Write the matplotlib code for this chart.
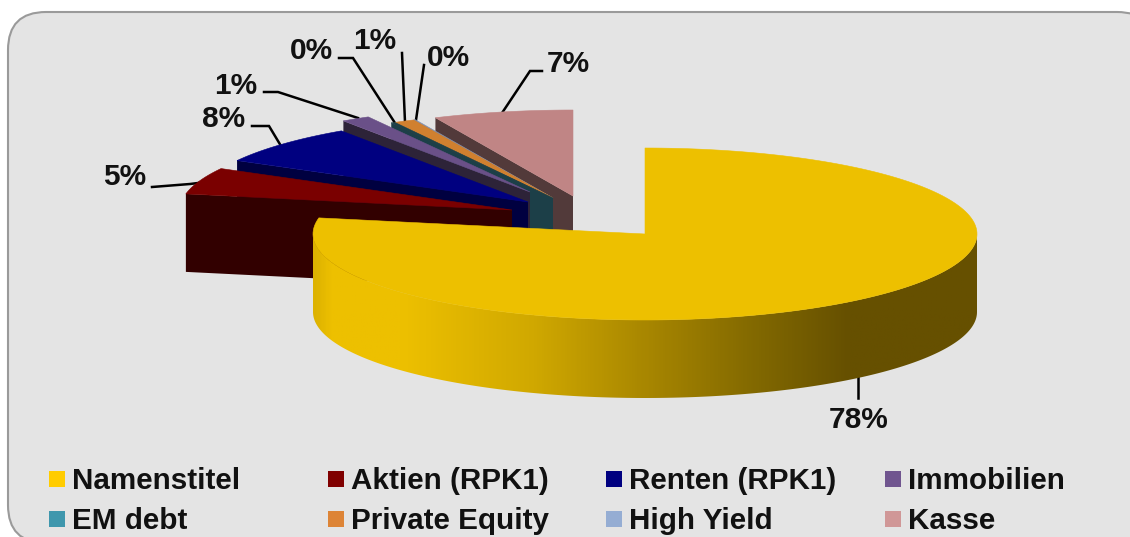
"""Exploded 3D style pie of the portfolio split, drawn by hand on a pixel sized axes."""
import matplotlib
matplotlib.use("Agg")
import matplotlib.pyplot as plt
import numpy as np
from matplotlib.colors import LinearSegmentedColormap
from matplotlib.patches import FancyBboxPatch, Polygon, Rectangle

plt.rcParams["font.family"] = ["Liberation Sans", "DejaVu Sans"]

# data
CATEGORIES = ["Namenstitel", "Aktien (RPK1)", "Renten (RPK1)", "Immobilien",
              "EM debt", "Private Equity", "High Yield", "Kasse"]
SHARES = [78.0, 5.0, 7.5, 1.4, 0.2, 1.0, 0.1, 6.8]
SHARE_LABELS = ["78%", "5%", "8%", "1%", "0%", "1%", "0%", "7%"]

# styles
LEGEND_COLORS = ["#FFCC00", "#800000", "#000080", "#70558F", "#3F97AD", "#DD8436", "#95ADD3", "#D09797"]
TOP_COLORS = ["#EDC000", "#7A0000", "#000080", "#6A5088", "#1C4048", "#D0802F", "#8090B0", "#C08585"]
WALL_COLORS = ["#665000", "#320000", "#000040", "#2D2338", "#1C3F48", "#6A4A20", "#4A5468", "#523A3A"]

# layout, in pixels of the 1130x537 picture
RX, RY, DEPTH = 332, 86, 78
APEX = [(645, 234), (512, 210), (528, 202), (530, 192), (553, 198), (553, 198), (553, 198), (573, 196)]
LEADERS = [
    [(858, 377), (858, 398)],
    [(198, 183), (190, 184), (152, 187)],
    [(281, 146), (269, 126), (252, 126)],
    [(358, 118), (278, 92), (264, 92)],
    [(395, 123), (353, 58), (339, 58)],
    [(405, 122), (402, 53)],
    [(416, 120), (424, 65)],
    [(502, 113), (530, 71), (542, 71)],
]
LABEL_POS = [(859, 420), (125, 177), (224, 119), (236, 86), (311, 51), (375, 41), (448, 58), (568, 64)]
LEGEND_X = [49, 328, 606, 885]
LEGEND_Y = [479, 519]

# shading along the front wall of the big slice
GRAD_X = [313, 330, 401, 533, 652, 762, 850, 977]
GRAD_C = ["#DDB200", "#EDC000", "#EDC000", "#D0A800", "#A68500", "#806700", "#665000", "#665000"]


def pie_point(apex, angle):
    a = np.radians(angle)
    return apex[0] + RX * np.sin(a), apex[1] - RY * np.cos(a)


def arc_points(apex, start, end):
    angles = np.linspace(start, end, 200)
    return np.array([pie_point(apex, a) for a in angles])


def draw_slice(ax, i, start, end, z):
    apex = APEX[i]
    # radial wall on the start side, faces the viewer on the left half
    if start > 180:
        cx, cy = pie_point(apex, start)
        ax.add_patch(Polygon([apex, (cx, cy), (cx, cy + DEPTH), (apex[0], apex[1] + DEPTH)],
                             fc=WALL_COLORS[i], ec="none", zorder=z))
    # outer wall, only the part between 90 and 270 degrees can be seen
    a0, a1 = max(start, 90), min(end, 270)
    if a0 < a1:
        arc = arc_points(apex, a0, a1)
        low = arc[::-1] + [0, DEPTH]
        wall = Polygon(np.vstack([arc, low]), fc="none", ec="none", zorder=z)
        ax.add_patch(wall)
        xs = np.linspace(GRAD_X[0], GRAD_X[-1], 400)
        stops = [(x - GRAD_X[0]) / (GRAD_X[-1] - GRAD_X[0]) for x in GRAD_X]
        cmap = LinearSegmentedColormap.from_list("wall", list(zip(stops, GRAD_C)))
        im = ax.imshow(xs[None, :], extent=(GRAD_X[0], GRAD_X[-1], 420, 200), aspect="auto",
                       cmap=cmap, zorder=z)
        im.set_clip_path(wall)
    top = np.vstack([[apex], arc_points(apex, start, end)])
    ax.add_patch(Polygon(top, fc=TOP_COLORS[i], ec=TOP_COLORS[i], lw=0.4, zorder=z + 0.1))


if __name__ == "__main__":
    fig = plt.figure(figsize=(11.30, 5.37), dpi=100, facecolor="white")
    ax = fig.add_axes([0, 0, 1, 1])

    # the frame runs off the picture on the right and at the bottom
    ax.add_patch(FancyBboxPatch((8, 12), 1147, 531, boxstyle="round,pad=0,rounding_size=38",
                                fc="#E4E4E4", ec="#9A9A9A", lw=1.5, zorder=1))

    edges = np.concatenate([[0], np.cumsum(SHARES)]) / np.sum(SHARES) * 360

    # back to front: Kasse first, the big slice last
    for n, i in enumerate(range(len(SHARES) - 1, -1, -1)):
        draw_slice(ax, i, edges[i], edges[i + 1], 3 + n)

    for pts, pos, lab in zip(LEADERS, LABEL_POS, SHARE_LABELS):
        xs, ys = zip(*pts)
        ax.plot(xs, ys, color="black", lw=1.8, solid_joinstyle="miter", zorder=2)
        ax.text(pos[0], pos[1], lab, fontsize=21.5, fontweight="bold", color="#111111",
                ha="center", va="center", zorder=20)

    # legend, two rows of four
    for i, name in enumerate(CATEGORIES):
        x = LEGEND_X[i % 4]
        y = LEGEND_Y[i // 4]
        ax.add_patch(Rectangle((x, y - 8), 16, 16, fc=LEGEND_COLORS[i], ec="none", zorder=20))
        ax.text(x + 23, y + 2, name, fontsize=21.3, fontweight="bold", color="#111111",
                ha="left", va="center", zorder=20)

    ax.set_xlim(0, 1130)
    ax.set_ylim(537, 0)
    ax.axis("off")
    fig.savefig("out.png", dpi=100)
    plt.close(fig)
